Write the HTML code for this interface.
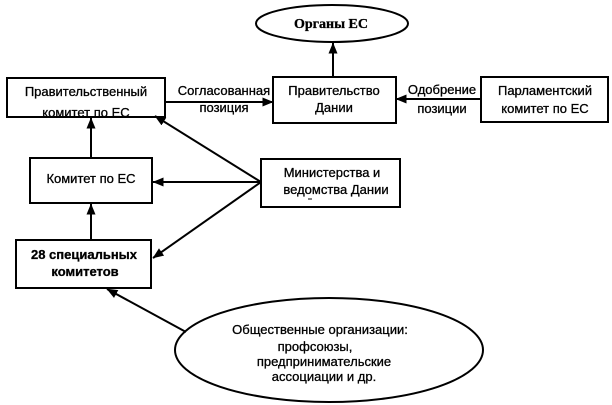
<!DOCTYPE html>
<html>
<head>
<meta charset="utf-8">
<style>
html,body{margin:0;padding:0;background:#fff;}
svg{display:block;}
text{font-family:"Liberation Sans","DejaVu Sans",sans-serif;font-size:13px;fill:#000;stroke:#000;stroke-width:0.3;}
.serif{font-family:"Liberation Serif",serif;font-weight:bold;font-size:14px;}
.b{font-weight:bold;}
</style>
</head>
<body>
<svg width="612" height="405" viewBox="0 0 612 405" xmlns="http://www.w3.org/2000/svg">
<defs>
<marker id="ah" markerWidth="11" markerHeight="9" refX="10.5" refY="4.5" orient="auto" markerUnits="userSpaceOnUse">
<path d="M0,0 L11,4.5 L0,9 Z" fill="#000"/>
</marker>
</defs>
<g stroke="#000" stroke-width="2" fill="none">
<ellipse cx="332" cy="23.5" rx="76" ry="18.5"/>
<rect x="7" y="78" width="158" height="39"/>
<rect x="273" y="77" width="123" height="46"/>
<rect x="481" y="77" width="127" height="45"/>
<rect x="30" y="158" width="122" height="45"/>
<rect x="261" y="159" width="139" height="48"/>
<rect x="16" y="240" width="135" height="48"/>
<ellipse cx="329" cy="350" rx="154" ry="52"/>

<line x1="333" y1="77" x2="333" y2="43" marker-end="url(#ah)"/>
<line x1="165" y1="102" x2="273" y2="102" marker-end="url(#ah)"/>
<line x1="481" y1="99" x2="396" y2="99" marker-end="url(#ah)"/>
<line x1="91" y1="158" x2="91" y2="118" marker-end="url(#ah)"/>
<line x1="91" y1="240" x2="91" y2="204" marker-end="url(#ah)"/>
<line x1="261" y1="182" x2="153" y2="182" marker-end="url(#ah)"/>
<line x1="261" y1="182" x2="155" y2="116" marker-end="url(#ah)"/>
<line x1="261" y1="182" x2="153" y2="258" marker-end="url(#ah)"/>
<line x1="186" y1="332" x2="107" y2="289" marker-end="url(#ah)"/>
<line x1="308" y1="199" x2="312" y2="199" stroke-width="1"/>
</g>

<text class="serif" x="331" y="28" text-anchor="middle">Органы ЕС</text>

<text x="86" y="96" text-anchor="middle">Правительственный</text>
<text x="86" y="117" text-anchor="middle">комитет по ЕС</text>

<text x="224" y="95" text-anchor="middle">Согласованная</text>
<text x="224" y="112" text-anchor="middle">позиция</text>

<text x="334" y="95" text-anchor="middle">Правительство</text>
<text x="334" y="112" text-anchor="middle">Дании</text>

<text x="442" y="94" text-anchor="middle">Одобрение</text>
<text x="442" y="113" text-anchor="middle">позиции</text>

<text x="545" y="95" text-anchor="middle">Парламентский</text>
<text x="545" y="113" text-anchor="middle">комитет по ЕС</text>

<text x="91" y="183" text-anchor="middle">Комитет по ЕС</text>

<text x="332" y="177" text-anchor="middle">Министерства и</text>
<text x="336" y="194" text-anchor="middle">ведомства Дании</text>

<text class="b" x="84" y="259" text-anchor="middle">28 специальных</text>
<text class="b" x="85" y="276" text-anchor="middle">комитетов</text>

<text x="320" y="334" text-anchor="middle">Общественные организации:</text>
<text x="315" y="351" text-anchor="middle">профсоюзы,</text>
<text x="324" y="366" text-anchor="middle">предпринимательские</text>
<text x="324" y="381" text-anchor="middle">ассоциации и др.</text>
</svg>
</body>
</html>
